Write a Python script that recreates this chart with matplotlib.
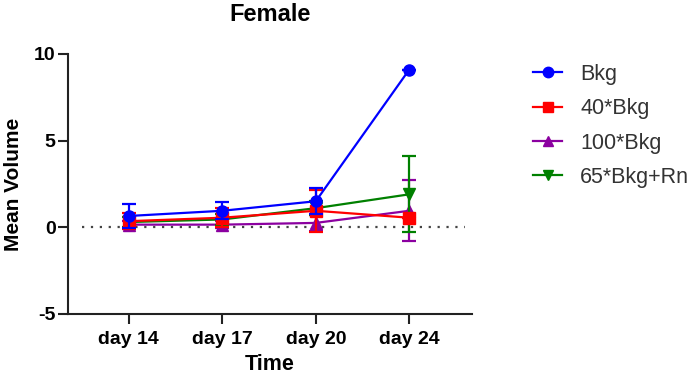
import matplotlib
matplotlib.use('Agg')
import matplotlib.pyplot as plt
from matplotlib.lines import Line2D

plt.rcParams['font.family'] = ['Liberation Sans', 'DejaVu Sans']
plt.rcParams['axes.unicode_minus'] = False

# data
days = ['day 14', 'day 17', 'day 20', 'day 24']
bkg = [0.65, 0.95, 1.5, 9.1]
bkg_err = [0.7, 0.5, 0.75, 0.0]
bkg40 = [0.35, 0.55, 0.95, 0.55]
bkg40_err = [0.45, 0.55, 1.2, 0.0]
bkg100 = [0.15, 0.15, 0.25, 0.95]
bkg100_err = [0.2, 0.2, 0.45, 1.75]
bkg65rn = [0.3, 0.45, 1.1, 1.9]
bkg65rn_err = [0.3, 0.3, 0.4, 2.2]

labels = ['Bkg', '40*Bkg', '100*Bkg', '65*Bkg+Rn']
colors = ['#0000ff', '#ff0000', '#8b00a0', '#008000']
markers = ['o', 's', '^', 'v']

x = list(range(1, len(days) + 1))

fig = plt.figure(figsize=(6.94, 3.8), dpi=100)
ax = fig.add_axes([0.098, 0.174, 0.582, 0.684])

ax.hlines(0, 0.5, 4.6, colors='#444444', linestyles=(0, (1, 3)), linewidth=1.6, zorder=1)

common = dict(linewidth=1.6, markersize=8, capsize=5, elinewidth=1.6, capthick=1.6)
ax.errorbar(x, bkg100, yerr=bkg100_err, color=colors[2], marker=markers[2], zorder=3, **common)
ax.errorbar(x, bkg65rn, yerr=bkg65rn_err, color=colors[3], marker=markers[3], zorder=4, **common)
ax.errorbar(x, bkg40, yerr=bkg40_err, color=colors[1], marker=markers[1], zorder=5, **common)
ax.errorbar(x, bkg, yerr=bkg_err, color=colors[0], marker=markers[0], zorder=6, **common)

ax.set_xlim(0.35, 4.67)
ax.set_ylim(-5, 10)
ax.set_yticks([-5, 0, 5, 10])
ax.set_xticks(x)
ax.set_xticklabels(days)

for side in ['top', 'right']:
    ax.spines[side].set_visible(False)
for side in ['left', 'bottom']:
    ax.spines[side].set_linewidth(1.5)
    ax.spines[side].set_color('#222222')

ax.tick_params(axis='both', direction='out', length=7, width=1.5, color='#222222')
ax.tick_params(axis='x', labelsize=14, pad=5)
ax.tick_params(axis='y', labelsize=14, pad=2)
for lbl in ax.get_xticklabels() + ax.get_yticklabels():
    lbl.set_fontweight('bold')

ax.set_title('Female', fontsize=17, fontweight='bold', pad=24)
ax.set_xlabel('Time', fontsize=15.5, fontweight='bold', labelpad=5)
ax.set_ylabel('Mean Volume', fontsize=15, fontweight='bold', labelpad=8)

handles = [Line2D([], [], color=c, marker=m, linewidth=1.6, markersize=7.5)
           for c, m in zip(colors, markers)]
leg = fig.legend(handles, labels, loc='upper left', bbox_to_anchor=(0.768, 0.832),
                 frameon=False, fontsize=15.5, handlelength=1.35, handletextpad=0.85,
                 labelspacing=0.62, borderpad=0, borderaxespad=0)
for t in leg.get_texts():
    t.set_color('#333333')

fig.savefig('out.png', dpi=100)
